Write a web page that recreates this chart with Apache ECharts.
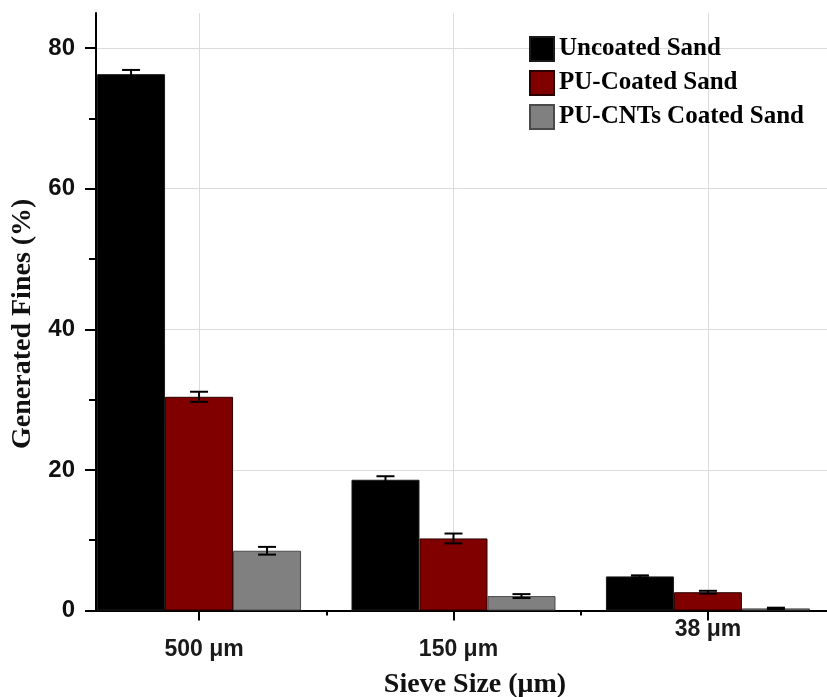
<!DOCTYPE html>
<html>
<head>
<meta charset="utf-8">
<title>Generated Fines</title>
<script src="https://cdn.jsdelivr.net/npm/echarts@6/dist/echarts.min.js"></script>
<style>
    html, body { margin: 0; padding: 0; background: #fff; }
    #chart { width: 827px; height: 697px; }
</style>
</head>
<body>
<div id="chart"></div>
<script>
// sieve sizes, placed at 1, 2, 3 on the x axis
const sieveLabels = ['500 μm', '150 μm', '38 μm'];
const sieveX = [1, 2, 3];

// generated fines (%) and their error (+/-)
const uncoated = [76.3, 18.6, 4.85];
const uncoatedErr = [0.6, 0.5, 0.15];
const puCoated = [30.4, 10.25, 2.6];
const puCoatedErr = [0.72, 0.7, 0.2];
const puCnts = [8.5, 2.05, 0.3];
const puCntsErr = [0.55, 0.28, 0.1];

const yTicks = [0, 20, 40, 60, 80];
const yMinorTicks = [10, 30, 50, 70];
const xMinorTicks = [1.5, 2.5];

const seriesNames = ['Uncoated Sand', 'PU-Coated Sand', 'PU-CNTs Coated Sand'];
const colors = ['#000000', '#800000', '#808080'];
const borders = ['#1a1a1a', '#2a0000', '#4a4a4a'];

const BAR_W = 68;
const SERIF = 'Liberation Serif, Times New Roman, serif';
const SANS = 'Liberation Sans, Arial, sans-serif';

function pairs(vals) {
    return sieveX.map((x, i) => [x, vals[i]]);
}

// error bar rows: x, low, high, series index
let errRows = [];
[[uncoated, uncoatedErr], [puCoated, puCoatedErr], [puCnts, puCntsErr]].forEach(function (s, k) {
    for (let i = 0; i < sieveX.length; i++) {
        errRows.push([sieveX[i], s[0][i] - s[1][i], s[0][i] + s[1][i], k]);
    }
});

function renderErr(params, api) {
    let x = api.value(0);
    let top = api.coord([x, api.value(2)]);
    let bot = api.coord([x, api.value(1)]);
    let cx = top[0] + (api.value(3) - 1) * BAR_W;
    let half = 9;
    let st = {stroke: '#000', lineWidth: 2};
    return {
        type: 'group',
        children: [
            {type: 'line', shape: {x1: cx, y1: top[1], x2: cx, y2: bot[1]}, style: st},
            {type: 'line', shape: {x1: cx - half, y1: top[1], x2: cx + half, y2: top[1]}, style: st},
            {type: 'line', shape: {x1: cx - half, y1: bot[1], x2: cx + half, y2: bot[1]}, style: st}
        ]
    };
}

const xMin = 0.595, xMax = 3.468;

let chart = echarts.init(document.getElementById('chart'));
chart.setOption({
    animation: false,
    backgroundColor: '#fff',
    grid: {left: 96, right: 0, top: 13, bottom: 86.5, outerBoundsMode: 'none'},
    legend: {
        data: seriesNames,
        orient: 'vertical',
        left: 529, top: 36,
        padding: 0,
        itemWidth: 24, itemHeight: 24, itemGap: 8,
        icon: 'rect',
        textStyle: {fontFamily: SERIF, fontWeight: 'bold', fontSize: 25, color: '#000', padding: [0, 0, 0, 0]}
    },
    xAxis: [{
        type: 'value',
        min: xMin, max: xMax,
        name: 'Sieve Size (μm)',
        nameLocation: 'middle',
        nameGap: 60,
        nameTextStyle: {fontFamily: SERIF, fontWeight: 'bold', fontSize: 28, color: '#111', padding: [0, 0, 0, 27]},
        axisLine: {lineStyle: {color: '#000', width: 2}},
        axisTick: {customValues: sieveX, length: 10, lineStyle: {color: '#000', width: 2}},
        axisLabel: {
            customValues: sieveX,
            margin: 8,
            formatter: function (v) {
                let i = sieveX.indexOf(v);
                return i === 2 ? '{up|' + sieveLabels[i] + '}' : '{dn|' + sieveLabels[i] + '}';
            },
            rich: {
                up: {fontFamily: SANS, fontWeight: 'bold', fontSize: 23, color: '#1a1a1a'},
                dn: {fontFamily: SANS, fontWeight: 'bold', fontSize: 23, color: '#1a1a1a', padding: [20, 0, 0, 10]}
            }
        },
        splitLine: {show: true, lineStyle: {color: '#dcdcdc', width: 1}}
    }, {
        type: 'value',
        position: 'bottom',
        min: xMin, max: xMax,
        axisLine: {show: false},
        axisTick: {customValues: xMinorTicks, length: 5, lineStyle: {color: '#000', width: 2}},
        axisLabel: {show: false},
        splitLine: {show: false}
    }],
    yAxis: [{
        type: 'value',
        min: 0, max: 85,
        name: 'Generated Fines (%)',
        nameLocation: 'middle',
        nameRotate: 90,
        nameGap: 59,
        nameTextStyle: {fontFamily: SERIF, fontWeight: 'bold', fontSize: 28, color: '#111', padding: [0, 24, 0, 0]},
        axisLine: {show: true, lineStyle: {color: '#000', width: 2}},
        axisTick: {show: true, customValues: yTicks, length: 11, lineStyle: {color: '#000', width: 2}},
        axisLabel: {customValues: yTicks, margin: 21, fontFamily: SANS, fontWeight: 'bold', fontSize: 24, color: '#111'},
        splitLine: {show: true, lineStyle: {color: '#dcdcdc', width: 1}}
    }, {
        type: 'value',
        position: 'left',
        min: 0, max: 85,
        axisLine: {show: false},
        axisTick: {show: true, customValues: yMinorTicks, length: 7, lineStyle: {color: '#000', width: 2}},
        axisLabel: {show: false},
        splitLine: {show: false}
    }],
    series: [
        {
            name: seriesNames[0], type: 'bar', data: pairs(uncoated),
            barWidth: BAR_W, barGap: '0%',
            itemStyle: {color: colors[0], borderColor: borders[0], borderWidth: 1}
        },
        {
            name: seriesNames[1], type: 'bar', data: pairs(puCoated),
            barWidth: BAR_W, barGap: '0%',
            itemStyle: {color: colors[1], borderColor: borders[1], borderWidth: 1}
        },
        {
            name: seriesNames[2], type: 'bar', data: pairs(puCnts),
            barWidth: BAR_W, barGap: '0%',
            itemStyle: {color: colors[2], borderColor: borders[2], borderWidth: 1}
        },
        {
            name: 'err', type: 'custom', z: 3,
            renderItem: renderErr,
            encode: {x: 0, y: [1, 2]},
            data: errRows
        }
    ]
});
</script>
</body>
</html>
